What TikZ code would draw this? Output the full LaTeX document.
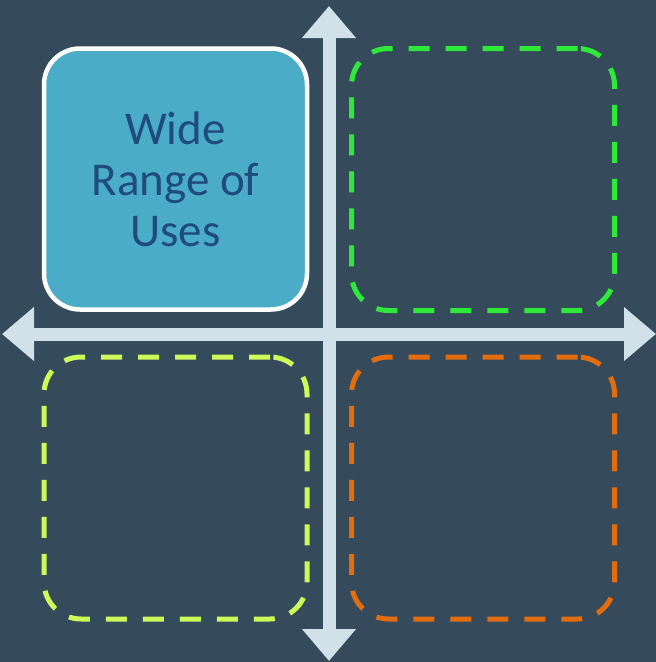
\documentclass[tikz,border=0pt]{standalone}
\usepackage{fontspec}
\setmainfont{Carlito}
\usetikzlibrary{arrows.meta}
\definecolor{slate}{HTML}{354B5B}
\definecolor{axisblue}{HTML}{D0E1EA}
\definecolor{aqua}{HTML}{4AACC6}
\definecolor{navy}{HTML}{1F4C7C}
\definecolor{limegreen}{HTML}{2EEA38}
\definecolor{chartreuse}{HTML}{CCFA58}
\definecolor{pumpkin}{HTML}{E36C0C}
\tikzset{
  axis/.style={draw=axisblue, line width=13pt,
    {Triangle[length=32pt,width=52pt]}-{Triangle[length=32pt,width=52pt]}},
  quadbox/.style={minimum width=263pt, minimum height=262pt, inner sep=0pt,
    rounded corners=37pt, line width=5pt, dash pattern=on 21pt off 16pt},
  mainbox/.style={minimum width=263pt, minimum height=261pt, inner sep=0pt,
    rounded corners=36pt, line width=4.5pt, draw=white, fill=aqua,
    text=navy, align=center,
    font=\fontsize{47pt}{51pt}\selectfont}
}
\begin{document}
\begin{tikzpicture}[x=1pt,y=-1pt]
  \fill[slate] (0,0) rectangle (656,662);
  \useasboundingbox (0,0) rectangle (656,662);
  % axis end points
  \coordinate (top) at (329,6);
  \coordinate (bottom) at (329,661);
  \coordinate (left) at (2,334);
  \coordinate (right) at (656,334);
  \draw[axis] (left) -- (right);
  \draw[axis] (top) -- (bottom);
  % quadrants
  \node[mainbox] (uses) at (175.5,179) {Wide\\Range of\\Uses};
  \node[quadbox, draw=limegreen] (ne) at (483,179.5) {};
  \node[quadbox, draw=chartreuse] (sw) at (175.5,488) {};
  \node[quadbox, draw=pumpkin] (se) at (483,488) {};
\end{tikzpicture}
\end{document}
